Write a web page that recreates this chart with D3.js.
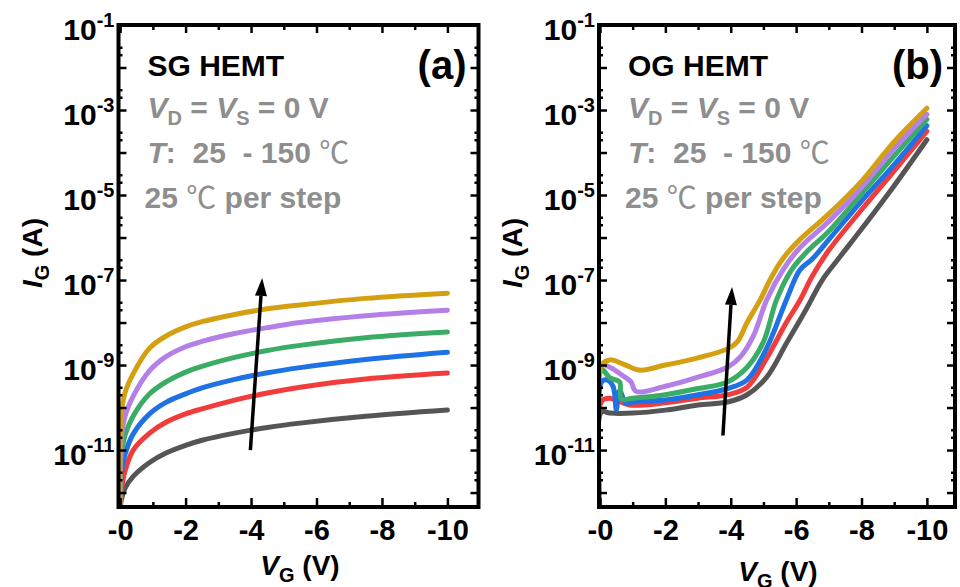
<!DOCTYPE html>
<html><head><meta charset="utf-8">
<script src="https://cdn.jsdelivr.net/npm/d3@7"></script>
<style>
body{margin:0;background:#fff;}
svg text{font-family:"Liberation Sans", Arial, "Noto Sans CJK SC", sans-serif;}
</style></head><body>
<svg id="c" width="960" height="587"></svg>
<script>
// ---------------- data ----------------
const temps = [25, 50, 75, 100, 125, 150];
const colors = ["#555555", "#f23c3c", "#1f72e4", "#3aac66", "#b47fe6", "#d4a012"];
const xTicks = [0, -2, -4, -6, -8, -10];
const xTickLabels = ["-0", "-2", "-4", "-6", "-8", "-10"];
const xMinorTicks = [-1, -3, -5, -7, -9];
const yLabelExps = [-1, -3, -5, -7, -9, -11];
const yMajorExps = [-1, -2, -3, -4, -5, -6, -7, -8, -9, -10, -11, -12];

// Panel (a) SG HEMT
const aVG = [0, -0.03, -0.15, -0.4, -0.9, -1.4, -2, -2.5, -3.5, -4.5, -5.5, -7.5, -10];
const aIG25  = [3e-13, 6.3e-13, 1.26e-12, 2.4e-12, 5.1e-12, 8.5e-12, 1.29e-11, 1.7e-11, 2.5e-11, 3.4e-11, 4.3e-11, 6.2e-11, 8.7e-11];
const aIG50  = [3e-13, 1.0e-12, 3.2e-12, 1.0e-11, 2.5e-11, 4.5e-11, 7.1e-11, 9.3e-11, 1.5e-10, 2.2e-10, 3.0e-10, 4.7e-10, 6.5e-10];
const aIG75  = [3e-13, 2.5e-12, 7.9e-12, 2.4e-11, 7.1e-11, 1.32e-10, 2.1e-10, 2.9e-10, 4.6e-10, 6.6e-10, 8.7e-10, 1.35e-9, 2.0e-9];
const aIG100 = [3e-13, 6.3e-12, 2.24e-11, 6.3e-11, 2.1e-10, 4.0e-10, 6.8e-10, 9.3e-10, 1.51e-9, 2.2e-9, 2.9e-9, 4.4e-9, 6.0e-9];
const aIG125 = [3e-13, 1.6e-11, 6.3e-11, 1.86e-10, 7.4e-10, 1.58e-9, 2.7e-9, 3.6e-9, 5.5e-9, 7.6e-9, 1.0e-8, 1.45e-8, 1.95e-8];
const aIG150 = [3e-13, 6.3e-11, 2.24e-10, 6.3e-10, 2.5e-9, 4.8e-9, 7.9e-9, 1.05e-8, 1.55e-8, 2.1e-8, 2.6e-8, 3.7e-8, 4.9e-8];

// Panel (b) OG HEMT
const bVG25  = [0, -0.05, -0.3, -1, -2, -3, -3.9, -4.5, -5.1, -5.7, -6.3, -6.8, -7.3, -8, -9, -10];
const bIG25  = [3e-13, 7.9e-11, 7.4e-11, 7.4e-11, 8.7e-11, 1.15e-10, 1.35e-10, 2.0e-10, 5.2e-10, 3.2e-9, 2.0e-8, 1.0e-7, 3.2e-7, 1.58e-6, 1.66e-5, 2.0e-4];
const bVG50  = [0, -0.05, -0.3, -0.9, -2, -3, -3.9, -4.5, -5.1, -5.7, -6.1, -6.5, -7, -8, -9, -10];
const bIG50  = [3e-13, 1.41e-10, 1.66e-10, 1.15e-10, 1.29e-10, 1.66e-10, 2.0e-10, 3.0e-10, 1.45e-9, 1.0e-8, 3.16e-8, 1.26e-7, 5.0e-7, 4.5e-6, 3.7e-5, 3.16e-4];
const bVG75  = [0, -0.05, -0.2, -0.4, -0.5, -0.6, -0.8, -1, -2, -3, -3.9, -4.5, -5.1, -5.7, -6.12, -6.5, -7, -8, -9, -10];
const bIG75  = [3e-13, 4.0e-10, 4.5e-10, 3.16e-10, 8.9e-11, 2.5e-10, 1.26e-10, 1.35e-10, 1.5e-10, 2.0e-10, 2.8e-10, 4.5e-10, 2.5e-9, 3.4e-8, 1.74e-7, 3.16e-7, 8.9e-7, 7.2e-6, 5.2e-5, 4.3e-4];
const bVG100 = [0, -0.05, -0.3, -0.6, -0.65, -1, -2, -3, -3.9, -4.5, -5.0, -5.4, -5.86, -6.3, -7, -8, -9, -10];
const bIG100 = [3e-13, 7.9e-10, 5.0e-10, 4.0e-10, 1.58e-10, 1.66e-10, 2.0e-10, 2.8e-10, 4.0e-10, 8.9e-10, 3.5e-9, 3.4e-8, 1.74e-7, 4.4e-7, 1.41e-6, 1.07e-5, 8.3e-5, 6.0e-4];
const bVG125 = [0, -0.05, -0.3, -0.7, -0.95, -1.1, -2, -3, -3.9, -4.3, -4.7, -5.1, -5.6, -6.1, -7, -8, -9, -10];
const bIG125 = [3e-13, 1.0e-9, 8.9e-10, 5.6e-10, 4.0e-10, 2.4e-10, 3.16e-10, 5.2e-10, 8.9e-10, 1.58e-9, 5.0e-9, 3.4e-8, 1.74e-7, 5.6e-7, 2.4e-6, 1.5e-5, 1.26e-4, 7.9e-4];
const bVG150 = [0, -0.05, -0.3, -0.7, -1.2, -2, -3, -3.9, -4.2, -4.5, -4.9, -5.2, -5.5, -5.8, -6.1, -7, -8, -9, -10];
const bIG150 = [3e-13, 1.0e-9, 1.32e-9, 1.07e-9, 7.6e-10, 1.0e-9, 1.48e-9, 2.4e-9, 3.5e-9, 1.0e-8, 3.4e-8, 1.0e-7, 2.5e-7, 5.0e-7, 8.7e-7, 3.6e-6, 2.1e-5, 1.8e-4, 1.1e-3];

// arrows [VG, IG] from -> to
const arrowA = [[-3.98, 1.0e-11], [-4.34, 1.12e-7]];
const arrowB = [[-3.76, 2.2e-11], [-4.04, 6.9e-8]];

// ---------------- drawing ----------------
const svg = d3.select("#c");
svg.append("rect").attr("width", 960).attr("height", 587).attr("fill", "#fff");
const TOP = 25, BOTTOM = 507;
const GRAY = "#8e8e8e";

function drawPanel(cfg) {
  const g = svg.append("g");
  const x = d3.scaleLinear().domain(cfg.xDomain).range([cfg.left, cfg.right]);
  const y = d3.scaleLog().domain([Math.pow(10, -12.34), 1e-1]).range([BOTTOM, TOP]);
  const clipId = "clip" + cfg.id;
  svg.append("clipPath").attr("id", clipId).append("rect")
    .attr("x", cfg.left).attr("y", TOP).attr("width", cfg.right - cfg.left).attr("height", BOTTOM - TOP);

  const line = d3.line().x(d => x(d[0])).y(d => y(d[1])).curve(d3.curveCatmullRom.alpha(0.5));
  const cg = g.append("g").attr("clip-path", `url(#${clipId})`);
  cfg.series.forEach((s, i) => {
    const pts = s.vg.map((v, j) => [v, s.ig[j]]);
    cg.append("path").datum(pts).attr("d", line)
      .attr("fill", "none").attr("stroke", colors[i]).attr("stroke-width", 5)
      .attr("stroke-linejoin", "round").attr("stroke-linecap", "round");
  });

  // arrow
  const [p0, p1] = cfg.arrow;
  const x0 = x(p0[0]), y0 = y(p0[1]), x1 = x(p1[0]), y1 = y(p1[1]);
  const ang = Math.atan2(y1 - y0, x1 - x0);
  const L = 18, W = 6;
  const bx = x1 - L * Math.cos(ang), by = y1 - L * Math.sin(ang);
  g.append("line").attr("x1", x0).attr("y1", y0).attr("x2", bx).attr("y2", by)
    .attr("stroke", "#000").attr("stroke-width", 3.5);
  g.append("path").attr("d", d3.line()([
    [x1, y1],
    [bx + W * Math.sin(ang), by - W * Math.cos(ang)],
    [bx - W * Math.sin(ang), by + W * Math.cos(ang)]
  ]) + "Z").attr("fill", "#000");

  // axes (inward ticks)
  const majorY = yMajorExps.map(e => Math.pow(10, e));
  const minorY = [];
  yMajorExps.forEach(e => { [2, 3].forEach(m => { const v = m * Math.pow(10, e); if (v < 1e-1) minorY.push(v); }); });

  const axStyle = sel => { sel.select(".domain").remove(); sel.selectAll("line").attr("stroke", "#000").attr("stroke-width", 2.5); };

  g.append("g").attr("transform", `translate(${cfg.left},0)`)
    .call(d3.axisLeft(y).tickValues(majorY).tickSize(-8).tickFormat("")).call(axStyle);
  g.append("g").attr("transform", `translate(${cfg.left},0)`)
    .call(d3.axisLeft(y).tickValues(minorY).tickSize(-4).tickFormat("")).call(axStyle);
  g.append("g").attr("transform", `translate(${cfg.right},0)`)
    .call(d3.axisRight(y).tickValues(majorY).tickSize(-8).tickFormat("")).call(axStyle);
  g.append("g").attr("transform", `translate(${cfg.right},0)`)
    .call(d3.axisRight(y).tickValues(minorY).tickSize(-4).tickFormat("")).call(axStyle);

  const bx_ = g.append("g").attr("transform", `translate(0,${BOTTOM})`)
    .call(d3.axisBottom(x).tickValues(xTicks).tickSize(-9).tickPadding(12)
      .tickFormat((d, i) => xTickLabels[i])).call(axStyle);
  bx_.selectAll("text").attr("font-size", 29).attr("font-weight", "bold").attr("fill", "#000")
    .attr("font-family", "Liberation Sans, Arial, sans-serif");
  g.append("g").attr("transform", `translate(0,${BOTTOM})`)
    .call(d3.axisBottom(x).tickValues(xMinorTicks).tickSize(-5).tickFormat("")).call(axStyle);
  g.append("g").attr("transform", `translate(0,${TOP})`)
    .call(d3.axisTop(x).tickValues(xTicks).tickSize(-8).tickFormat("")).call(axStyle);
  g.append("g").attr("transform", `translate(0,${TOP})`)
    .call(d3.axisTop(x).tickValues(xMinorTicks).tickSize(-5).tickFormat("")).call(axStyle);

  // y tick labels with superscripts
  yLabelExps.forEach(e => {
    const t = g.append("text").attr("x", cfg.left - 4).attr("y", y(Math.pow(10, e)) + 15)
      .attr("text-anchor", "end").attr("font-weight", "bold").attr("font-size", 30).attr("fill", "#000");
    t.append("tspan").text("10");
    t.append("tspan").attr("font-size", 20).attr("dy", -13).text(String(e));
  });

  // frame
  g.append("rect").attr("x", cfg.left).attr("y", TOP).attr("width", cfg.right - cfg.left)
    .attr("height", BOTTOM - TOP).attr("fill", "none").attr("stroke", "#000").attr("stroke-width", 4);

  // y title
  const yt = g.append("text").attr("transform", `translate(${cfg.left - 77},253) rotate(-90)`)
    .attr("text-anchor", "middle").attr("font-weight", "bold").attr("font-size", 28).attr("fill", "#000");
  yt.append("tspan").attr("font-style", "italic").text("I");
  yt.append("tspan").attr("font-size", 20).attr("dy", 7).text("G");
  yt.append("tspan").attr("dy", -7).text(" (A)");

  // x title
  const xt = g.append("text").attr("x", cfg.xTitleX).attr("y", cfg.xTitleY)
    .attr("text-anchor", "middle").attr("font-weight", "bold").attr("font-size", 28).attr("fill", "#000");
  xt.append("tspan").attr("font-style", "italic").text("V");
  xt.append("tspan").attr("font-size", 20).attr("dy", 7).text("G");
  xt.append("tspan").attr("dy", -7).text(" (V)");

  // panel texts
  g.append("text").attr("x", cfg.left + 29).attr("y", 76).attr("font-weight", "bold")
    .attr("font-size", 30).attr("fill", "#000").text(cfg.title);
  g.append("text").attr("x", cfg.right - 12).attr("y", 79).attr("text-anchor", "end")
    .attr("font-weight", "bold").attr("font-size", 40).attr("fill", "#000").text(cfg.tag);

  const tx = cfg.left + 29;
  const l1 = g.append("text").attr("x", tx).attr("y", 118).attr("font-weight", "bold")
    .attr("font-size", 30).attr("fill", GRAY).style("white-space", "pre");
  l1.append("tspan").attr("font-style", "italic").text("V");
  l1.append("tspan").attr("font-size", 20).attr("dy", 7).text("D");
  l1.append("tspan").attr("dy", -7).text(" = ");
  l1.append("tspan").attr("font-style", "italic").text("V");
  l1.append("tspan").attr("font-size", 20).attr("dy", 7).text("S");
  l1.append("tspan").attr("dy", -7).text(" = 0 V");

  const l2 = g.append("text").attr("x", tx).attr("y", 163).attr("font-weight", "bold")
    .attr("font-size", 30).attr("fill", GRAY).style("white-space", "pre");
  l2.append("tspan").attr("font-style", "italic").text("T");
  l2.append("tspan").text(":  25  - 150 ");
  l2.append("tspan").attr("font-weight", "normal").attr("font-family", "Noto Sans CJK SC").text("℃");

  const l3 = g.append("text").attr("x", tx - 3).attr("y", 208).attr("font-weight", "bold")
    .attr("font-size", 30).attr("fill", GRAY).style("white-space", "pre");
  l3.append("tspan").text("25 ");
  l3.append("tspan").attr("font-weight", "normal").attr("font-family", "Noto Sans CJK SC").text("℃");
  l3.append("tspan").text(" per step");
}

drawPanel({
  id: "a", left: 118.5, right: 478.5, xDomain: [0.05, -10.95],
  title: "SG HEMT", tag: "(a)", xTitleX: 300, xTitleY: 575, arrow: arrowA,
  series: [
    { vg: aVG, ig: aIG25 }, { vg: aVG, ig: aIG50 }, { vg: aVG, ig: aIG75 },
    { vg: aVG, ig: aIG100 }, { vg: aVG, ig: aIG125 }, { vg: aVG, ig: aIG150 }
  ]
});
drawPanel({
  id: "b", left: 599, right: 955, xDomain: [0.03, -10.86],
  title: "OG HEMT", tag: "(b)", xTitleX: 778, xTitleY: 581, arrow: arrowB,
  series: [
    { vg: bVG25, ig: bIG25 }, { vg: bVG50, ig: bIG50 }, { vg: bVG75, ig: bIG75 },
    { vg: bVG100, ig: bIG100 }, { vg: bVG125, ig: bIG125 }, { vg: bVG150, ig: bIG150 }
  ]
});
</script>
</body></html>
